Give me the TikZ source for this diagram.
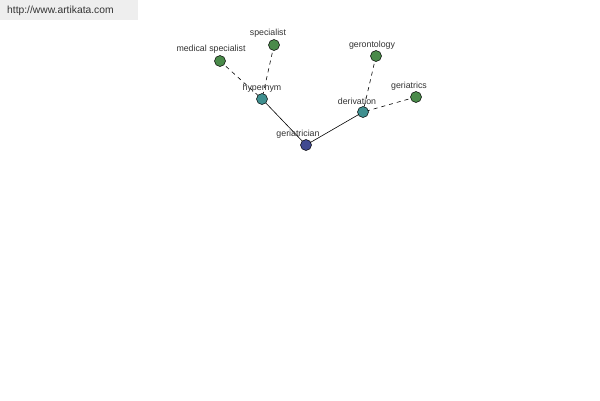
\documentclass[tikz,border=0pt]{standalone}
\usepackage{fontspec}
\setmainfont{Liberation Sans}
\definecolor{rootc}{HTML}{404A90}
\definecolor{midc}{HTML}{3F8F8F}
\definecolor{leafc}{HTML}{4A8A4A}
\definecolor{txt}{HTML}{333333}
\definecolor{banner}{HTML}{EEEEEE}
\begin{document}
\begin{tikzpicture}[x=1pt,y=-1pt,
  dot/.style={circle,draw=black,line width=0.5pt,minimum size=11pt,inner sep=0pt},
  lab/.style={font=\fontsize{8.8}{9}\selectfont,text=txt,inner sep=0pt},
  rel/.style={draw=black,line width=0.6pt},
  weak/.style={draw=black,line width=0.6pt,dash pattern=on 4pt off 4pt}]
\useasboundingbox (0,0) rectangle (600,400);
\fill[white] (0,0) rectangle (600,400);
\fill[banner] (0,0) rectangle (138,20);
\node[font=\fontsize{10.3}{11}\selectfont,text=txt,anchor=west,inner sep=0pt] (url) at (7,11) {http://www.artikata.com};
% connectors first
\coordinate (cG) at (306,145);
\coordinate (cH) at (262,99);
\coordinate (cD) at (363,112);
\coordinate (cM) at (220,61);
\coordinate (cS) at (274,45);
\coordinate (cO) at (376,56);
\coordinate (cR) at (416,97);
\draw[weak] (cM) -- (cH);
\draw[weak] (cS) -- (cH);
\draw[weak] (cO) -- (cD);
\draw[weak] (cR) -- (cD);
\draw[rel] (cH) -- (cG);
\draw[rel] (cG) -- (cD);
% nodes
\node[dot,fill=rootc] (geriatrician) at (cG) {};
\node[dot,fill=midc] (hypernym) at (cH) {};
\node[dot,fill=midc] (derivation) at (cD) {};
\node[dot,fill=leafc] (medspec) at (cM) {};
\node[dot,fill=leafc] (specialist) at (cS) {};
\node[dot,fill=leafc] (gerontology) at (cO) {};
\node[dot,fill=leafc] (geriatrics) at (cR) {};
% labels
\node[lab] (lG) at (298,134) {geriatrician};
\node[lab] (lH) at (262,88) {hypernym};
\node[lab] (lD) at (357,101) {derivation};
\node[lab] (lM) at (211,49) {medical specialist};
\node[lab] (lS) at (268,33) {specialist};
\node[lab] (lO) at (372,45) {gerontology};
\node[lab] (lR) at (409,86) {geriatrics};
\end{tikzpicture}
\end{document}
